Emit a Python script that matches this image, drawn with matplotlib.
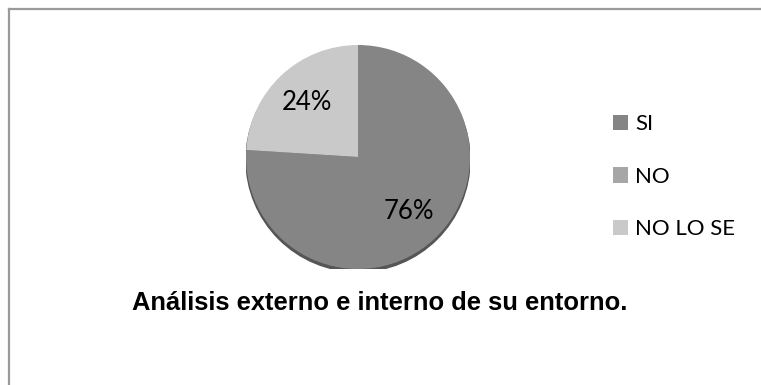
import matplotlib
matplotlib.use("Agg")
import matplotlib.pyplot as plt
from matplotlib.lines import Line2D

# respuestas de la encuesta
categorias = ["SI", "NO", "NO LO SE"]
porcentajes = [76, 0, 24]
colores = ["#858585", "#a6a6a6", "#c9c9c9"]
titulo = "Análisis externo e interno de su entorno."

W, H = 761, 385
fig = plt.figure(figsize=(W / 100, H / 100), dpi=100)
fig.patch.set_facecolor("white")

# marco gris arriba y a la izquierda
fig.add_artist(Line2D([9 / W, 9 / W], [0, 1 - 9 / H], color="#9a9a9a", lw=1.6))
fig.add_artist(Line2D([9 / W, 1], [1 - 9 / H, 1 - 9 / H], color="#9a9a9a", lw=1.6))

cx, cy, r = 358, 157, 112
ax = fig.add_axes([(cx - r) / W, (H - cy - r) / H, 2 * r / W, 2 * r / H])

# sombra leve bajo el pastel
sombra = plt.Circle((0.0, -0.025), 1.0, color="#555555", zorder=0)
ax.add_patch(sombra)


def etiqueta(p):
    return "" if p < 0.5 else f"{p:.0f}%"


wedges, textos, pcts = ax.pie(
    porcentajes, colors=colores, startangle=90, counterclock=False,
    radius=1.0, autopct=etiqueta, pctdistance=0.67,
    wedgeprops=dict(linewidth=0),
    textprops=dict(fontsize=18.5, family="Lato", color="black"),
)
ax.set_xlim(-1.0, 1.0)
ax.set_ylim(-1.0, 1.0)
ax.set_aspect("equal")
ax.axis("off")

fig.legend(
    wedges, categorias, loc="upper left",
    bbox_to_anchor=(602 / W, 1 - 103 / H), frameon=False,
    prop=dict(family="Lato", size=16), handlelength=0.68, handleheight=0.68,
    handletextpad=0.3, labelspacing=1.47, borderpad=0,
)

fig.text(380 / W, 1 - 303 / H, titulo, ha="center", va="center",
         fontsize=18.4, fontweight="bold", family="Liberation Sans")

fig.savefig("out.png", dpi=100)
